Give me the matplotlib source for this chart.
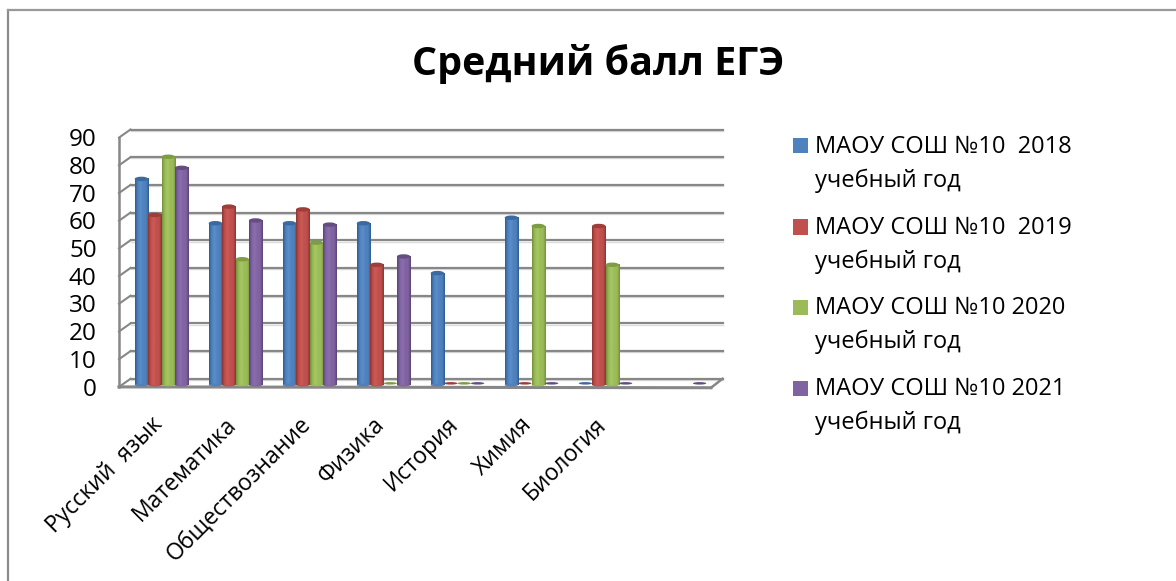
import numpy as np
import matplotlib
matplotlib.use('Agg')
import matplotlib.pyplot as plt
from matplotlib.colors import LinearSegmentedColormap
from matplotlib.patches import Ellipse, Rectangle
from matplotlib.transforms import ScaledTranslation

categories = ['Русский  язык', 'Математика', 'Обществознание', 'Физика',
              'История', 'Химия', 'Биология', '']
series_names = ['МАОУ СОШ №10  2018\nучебный год', 'МАОУ СОШ №10  2019\nучебный год',
                'МАОУ СОШ №10 2020\nучебный год', 'МАОУ СОШ №10 2021\nучебный год']
y_ticks = [0, 10, 20, 30, 40, 50, 60, 70, 80, 90]

values_2018 = [74.4, 58.4, 58.4, 58.4, 40.4, 60.4, 0, np.nan]
values_2019 = [61.4, 64.4, 63.4, 43.4, 0, 0, 57.4, np.nan]
values_2020 = [82.4, 45.4, 51.4, 0, 0, 57.4, 43.4, np.nan]
values_2021 = [78.4, 59.4, 57.9, 46.4, 0, 0, 0, 0]
all_values = [values_2018, values_2019, values_2020, values_2021]

# base, dark edge, light inner side, top cap
colors = [('#4F81BD', '#2F5F93', '#5A8FCB', '#3A6AA0'),
          ('#C0504D', '#8F3533', '#CE5A57', '#9E3D3A'),
          ('#9BBB59', '#76933C', '#A6C763', '#7E9C42'),
          ('#8064A2', '#5C4578', '#8A6EAD', '#654D82')]

W, H = 1176, 581
plt.rcParams['font.family'] = ['Open Sans', 'DejaVu Sans']

fig = plt.figure(figsize=(W / 100, H / 100), dpi=100)

# axes sits on the plane of the bars, the walls are drawn shifted from it
left, right, base, top = 124.5, 716.5, 385, 135.7
ax = fig.add_axes([left / W, 1 - base / H, (right - left) / W, (base - top) / H])
ax.set_facecolor('none')

px_x = 8 / (right - left)
px_y = 90 / (base - top)
back_x, back_y = 6 * px_x, 6.2 * px_y
front_x, front_y = -5.5 * px_x, -1.9 * px_y
line_color = '#878787'

for t in y_ticks:
    ax.plot([back_x, 8 + back_x], [t + back_y - 1.2 * px_y] * 2, color='#dcdcdc', lw=1, clip_on=False, zorder=1)
    ax.plot([back_x, 8 + back_x], [t + back_y] * 2, color=line_color, lw=1.6, clip_on=False, zorder=1)
    ax.plot([front_x, back_x], [t + front_y, t + back_y], color=line_color, lw=1.5, clip_on=False, zorder=1)

ax.plot([front_x, front_x], [front_y, 90 + front_y], color=line_color, lw=1.8, clip_on=False, zorder=1)
ax.plot([front_x, 8 + front_x], [front_y, front_y - 0.3], color=line_color, lw=2.2, clip_on=False, zorder=2)
ax.plot([8 + front_x, 8 + back_x], [front_y - 0.3, back_y], color=line_color, lw=1.8, clip_on=False, zorder=2)

bar_w = 0.181
for s, vals in enumerate(all_values):
    base_c, dark, light, cap = colors[s]
    cmap = LinearSegmentedColormap.from_list('cyl', [dark, base_c, light, base_c, base_c, dark])
    for i, v in enumerate(vals):
        if np.isnan(v):
            continue
        x0 = i + 0.5 + (s - 2) * bar_w
        if v > 0:
            ax.imshow(np.linspace(0, 1, 32).reshape(1, -1), cmap=cmap, aspect='auto',
                      extent=(x0, x0 + bar_w, 0, v), zorder=3 + s * 0.1, interpolation='bilinear')
            ax.add_patch(Ellipse((x0 + bar_w / 2, 0), bar_w, 1.0, color=base_c, lw=0, zorder=3, clip_on=False))
            ax.add_patch(Ellipse((x0 + bar_w / 2, v), bar_w, 1.6, color=cap, lw=0, zorder=3.5 + s * 0.1, clip_on=False))
        else:
            # empty value leaves only a flat disc on the floor
            ax.add_patch(Ellipse((x0 + bar_w / 2, 0.6), bar_w, 0.9, color=cap, lw=0, zorder=3.5, clip_on=False))

ax.set_xlim(0, 8)
ax.set_ylim(0, 90)
for sp in ax.spines.values():
    sp.set_visible(False)
ax.set_yticks(y_ticks)
ax.set_yticklabels([str(t) for t in y_ticks], fontsize=17.5)
ax.set_xticks(np.arange(8) + 0.5)
ax.set_xticklabels(categories, rotation=45, ha='right', va='top', rotation_mode='anchor', fontsize=16.5)
ax.tick_params(length=0)
ax.tick_params(axis='y', pad=20)
ax.tick_params(axis='x', pad=22)
for lab in ax.get_xticklabels():
    lab.set_transform(lab.get_transform() + ScaledTranslation(-0.11, 0.03, fig.dpi_scale_trans))
for lab in ax.get_yticklabels():
    lab.set_transform(lab.get_transform() + ScaledTranslation(0, -0.015, fig.dpi_scale_trans))

fig.text(598 / W, 1 - 64 / H, 'Средний балл ЕГЭ', ha='center', va='center',
         fontsize=28.4, fontweight='bold')

# legend
legend_y = [146, 227, 307, 388]
for s, name in enumerate(series_names):
    y = legend_y[s]
    fig.add_artist(Rectangle((793 / W, 1 - (y + 7.5) / H), 15 / W, 15 / H, transform=fig.transFigure,
                             facecolor=colors[s][0], edgecolor='none'))
    line1, line2 = name.split('\n')
    fig.text(815 / W, 1 - (y + 1) / H, line1, va='center', ha='left', fontsize=17)
    fig.text(815 / W, 1 - (y + 34.5) / H, line2, va='center', ha='left', fontsize=17)

# frame of the chart area
fig.add_artist(plt.Line2D([8 / W, 8 / W], [0, 1 - 10 / H], color='#8c8c8c', lw=1.6))
fig.add_artist(plt.Line2D([8 / W, 1], [1 - 10 / H, 1 - 10 / H], color='#999999', lw=1.6))

fig.savefig('out.png', dpi=100)
